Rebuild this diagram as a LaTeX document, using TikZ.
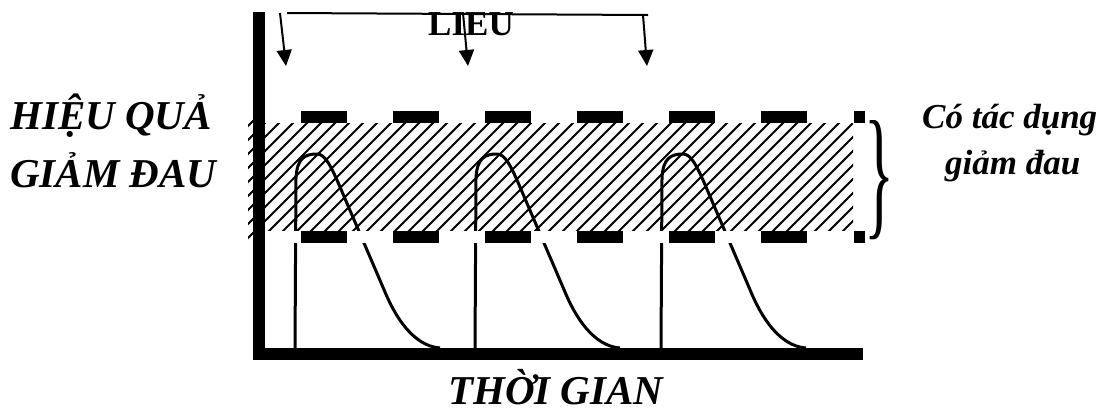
\documentclass[tikz,border=0pt]{standalone}
\usepackage{fontspec}
\setmainfont{Liberation Serif}
\usetikzlibrary{arrows.meta}
\tikzset{
  pulseline/.style={line width=3pt, line join=round},
  hatchline/.style={line width=2pt},
  doseline/.style={line width=2pt},
  dosearrow/.style={line width=2pt, -{Triangle[width=15pt,length=16pt]}},
  bigtxt/.style={inner sep=0pt, anchor=base west, font=\fontsize{41}{41}\selectfont\bfseries\itshape},
  smalltxt/.style={inner sep=0pt, anchor=base west, font=\fontsize{35}{35}\selectfont\bfseries\itshape},
  bandwhite/.style={fill=white},
  dashblk/.style={fill=black}
}
\begin{document}
\begin{tikzpicture}[x=1pt,y=-1pt]
\useasboundingbox (0,0) rectangle (1108,413);
\fill[white] (0,0) rectangle (1108,413);
% pulses
\foreach \xo in {295,475,661}{
  \draw[pulseline, xshift=\xo pt] (0,348) -- (1,178)
    .. controls (2,158) and (10,154) .. (22,154)
    .. controls (30,154) and (36,166) .. (45,187)
    -- (90,292)
    .. controls (100,316) and (118,346) .. (145,348);
}
% hatched zone
\begin{scope}
  \clip (248,118) rectangle (853,240);
  \foreach \i in {120,134,...,860}{
    \draw[hatchline] (\i,240) -- ({\i+122},118);
  }
\end{scope}
% white bands of the border
\fill[bandwhite] (265,111) rectangle (866,123);
\fill[bandwhite] (265,231) rectangle (866,243);
% black dashes
\foreach \k in {0,...,5}{
  \fill[dashblk] ({301+92*\k},111) rectangle ({347+92*\k},123);
  \fill[dashblk] ({301+92*\k},231) rectangle ({347+92*\k},243);
}
\fill[dashblk] (854,111) rectangle (865,123);
\fill[dashblk] (854,231) rectangle (865,243);
% axes
\fill (253,12) rectangle (265,360);
\fill (253,348) rectangle (863,360);
% dose label and arrows
\node[inner sep=0pt, anchor=base west, font=\fontsize{35}{35}\selectfont\bfseries] (lieu) at (428,35) {LIEU};
\coordinate (tl) at (287,13);
\coordinate (tr) at (648,15);
\draw[doseline] (tl) -- (tr);
\coordinate (a1s) at (280,13);
\coordinate (a1e) at (286,66);
\coordinate (a2s) at (463,13);
\coordinate (a2e) at (468,66);
\coordinate (a3s) at (643,15);
\coordinate (a3e) at (647,66);
\draw[dosearrow] (a1s) -- (a1e);
\draw[dosearrow] (a2s) -- (a2e);
\draw[dosearrow] (a3s) -- (a3e);
% texts
\node[bigtxt] (hq) at (10,129) {HIỆU QUẢ};
\node[bigtxt] (gd) at (10,187) {GIẢM ĐAU};
\node[bigtxt] (tg) at (448,404) {THỜI GIAN};
\node[smalltxt] (ct) at (922,128) {Có tác dụng};
\node[smalltxt] (gd2) at (945,174) {giảm đau};
% brace
\node[inner sep=0pt] (brace) at (879,180) {\resizebox{30pt}{100pt}{\}}};
\end{tikzpicture}
\end{document}
